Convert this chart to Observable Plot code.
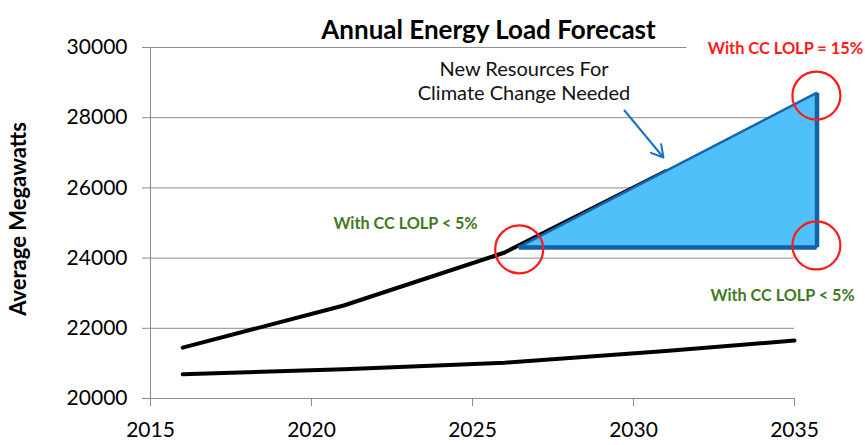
<!DOCTYPE html>
<html><head><meta charset="utf-8">
<script src="https://cdn.jsdelivr.net/npm/d3@7"></script>
<script src="https://cdn.jsdelivr.net/npm/@observablehq/plot@0.6"></script>
<style>body{margin:0;background:#fff;font-family:Lato,sans-serif}svg{overflow:visible}</style>
</head><body><div id="chart"></div>
<script>
// Data
const ccYears = [2016, 2021, 2026, 2031];
const ccLoad = [21450, 22650, 24160, 26470];          // load with climate change (visible part)
const baseYears = [2016, 2021, 2026, 2031, 2035];
const baseLoad = [20690, 20830, 21020, 21350, 21650];  // load without climate change
const yTicks = [20000, 22000, 24000, 26000, 28000, 30000];
const xTicks = [2015, 2020, 2025, 2030, 2035];

// "New resources" wedge
const wedgeX = [2026.45, 2035.7];
const wedgeBottom = 24300;
const wedgeTop = [24300, 28690];

// circled points
const circleX = [2026.45, 2035.68, 2035.68];
const circleY = [24250, 28630, 24360];

const title = "Annual Energy Load Forecast";
const yLabel = "Average Megawatts";
const noteText = "New Resources For\nClimate Change Needed";
const redLabel = "With CC LOLP = 15%";
const greenLabel = "With CC LOLP < 5%";

const ccData = ccYears.map((x, i) => ({x, y: ccLoad[i]}));
const baseData = baseYears.map((x, i) => ({x, y: baseLoad[i]}));
const wedge = wedgeX.map((x, i) => ({x, y1: wedgeBottom, y2: wedgeTop[i]}));
const circles = circleX.map((x, i) => ({x, y: circleY[i]}));

const grid = "#8c8c8c";
const green = "#3f7a22";

const chart = Plot.plot({
  width: 865,
  height: 445,
  marginLeft: 150,
  marginRight: 71,
  marginTop: 47,
  marginBottom: 47,
  style: {fontFamily: "Lato, sans-serif", background: "#fff", color: "#000"},
  x: {domain: [2015, 2035], axis: null},
  y: {domain: [20000, 30000], axis: null},
  marks: [
    Plot.gridY(yTicks, {stroke: grid, strokeOpacity: 1, strokeWidth: 1}),
    Plot.ruleX([2015], {stroke: grid, strokeWidth: 1}),
    Plot.axisY({ticks: yTicks, tickFormat: d => String(d), tickSize: 8, tickPadding: 15, fontSize: 21, stroke: grid, strokeOpacity: 1, fill: "#000", label: null}),
    Plot.axisX({ticks: xTicks, tickFormat: d => String(d), tickSize: 8, tickPadding: 16, fontSize: 21, stroke: grid, strokeOpacity: 1, fill: "#000", label: null}),
    // white box behind red label
    Plot.rect([0], {x1: 2031.65, x2: 2037, y1: 29600, y2: 30400, fill: "#fff"}),
    Plot.line(baseData, {x: "x", y: "y", stroke: "#000", strokeWidth: 4}),
    Plot.line(ccData, {x: "x", y: "y", stroke: "#000", strokeWidth: 4}),
    // wedge
    Plot.areaY(wedge, {x: "x", y1: "y1", y2: "y2", fill: "#4fc0fa", stroke: "#1565ad", strokeWidth: 2.5}),
    Plot.ruleY([wedgeBottom], {x1: wedgeX[0], x2: wedgeX[1], stroke: "#1262a6", strokeWidth: 4.5}),
    Plot.ruleX([wedgeX[1]], {y1: wedgeBottom, y2: wedgeTop[1], stroke: "#1262a6", strokeWidth: 4.5}),
    // circles
    Plot.dot(circles, {x: "x", y: "y", r: 24, stroke: "#ff1a1a", strokeWidth: 2.2, fill: "none"}),
    // arrow
    Plot.arrow([0], {x1: 2029.72, y1: 28205, x2: 2030.93, y2: 26866, stroke: "#1572c4", strokeWidth: 2, headLength: 10, inset: 0}),
    // texts
    Plot.text([title], {frameAnchor: "top", dx: 16, dy: -27, fontSize: 26, fontWeight: "bold", fill: "#000"}),
    Plot.text([yLabel], {frameAnchor: "left", textAnchor: "middle", dx: -132, dy: -4, rotate: -90, fontSize: 22, fontWeight: "bold", fill: "#000"}),
    Plot.text([noteText], {x: [2026.6], y: [29070], fontSize: 20, lineHeight: 1.2, fill: "#111"}),
    Plot.text([redLabel], {x: [2034.72], y: [29972], fontSize: 16.4, fontWeight: "bold", fill: "#ff1a1a"}),
    Plot.text([greenLabel], {x: [2022.92], y: [24986], fontSize: 16.2, fontWeight: "bold", fill: green}),
    Plot.text([greenLabel], {x: [2034.63], y: [22930], fontSize: 16.2, fontWeight: "bold", fill: green})
  ]
});
document.getElementById("chart").append(chart);
</script>
</body></html>
